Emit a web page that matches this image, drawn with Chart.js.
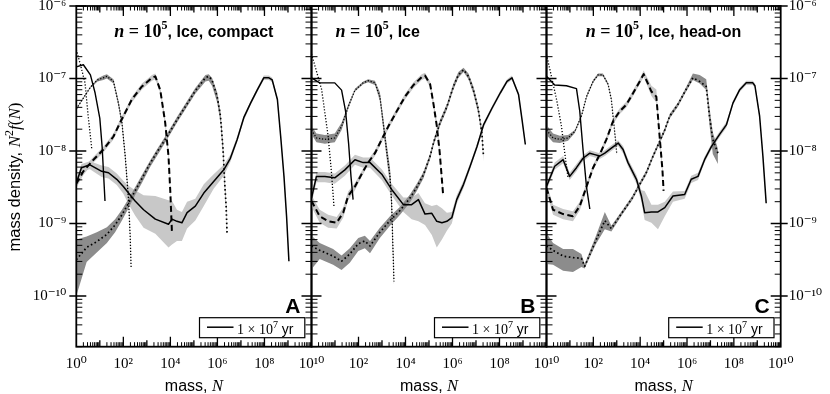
<!DOCTYPE html>
<html><head><meta charset="utf-8">
<script src="https://cdn.jsdelivr.net/npm/chart.js@4.4.0/dist/chart.umd.min.js"></script>
<style>
html,body{margin:0;padding:0;background:#fff;}
#wrap{position:relative;width:830px;height:394px;overflow:hidden;}
canvas{position:absolute;left:0;top:0;}
</style></head><body>
<div id="wrap">
<canvas id="cA" width="830" height="394"></canvas>
<canvas id="cB" width="830" height="394"></canvas>
<canvas id="cC" width="830" height="394"></canvas>
</div>
<script>
// ---------------- DATA (decimal exponents: n = log10 mass N, v = log10 N^2 f(N)) ----------------
// lo / hi : extent of the grey scatter band below / above the curve (in decades)
const X_MIN = 1, X_MAX = 1e10, Y_MIN = 2e-11, Y_MAX = 1e-6;
const xTickExpsFirst = [0, 2, 4, 6, 8, 10];
const xTickExpsRest  = [2, 4, 6, 8, 10];
const yTickExps = [-10, -9, -8, -7, -6];
const legendLabel = ['1 \u00d7 10', '7', ' yr'];
const panelTitles = ['compact', '', 'head-on'];
const panelLetters = ['A', 'B', 'C'];

// ---- Panel A (compact) ----
const A1_n = [0, 0.3, 0.6, 0.8, 1.0, 1.1, 1.22];
const A1_v = [-6.84, -6.81, -6.95, -7.2, -7.55, -7.95, -8.69];
const A2_n = [0, 0.2, 0.37, 0.5, 0.66];
const A2_v = [-6.6, -6.84, -7.06, -7.5, -7.98];
const A3_n = [0, 0.3, 0.6, 0.9, 1.15, 1.3, 1.58, 1.79, 1.94, 2.08, 2.22, 2.29, 2.33];
const A3_v = [-7.42, -7.27, -7.12, -7.02, -6.99, -6.97, -7.04, -7.34, -7.61, -8.07, -8.67, -9.17, -9.6];
const A3_lo = [0.01, 0.01, 0.01, 0.02, 0.03, 0.03, 0.03, 0.04, 0.05, 0.06, 0.06, 0.04, 0.02];
const A3_hi = [0.01, 0.01, 0.01, 0.02, 0.03, 0.03, 0.03, 0.04, 0.05, 0.06, 0.06, 0.04, 0.02];
const A4_n = [0, 0.3, 0.73, 1.15, 1.58, 1.86, 2.36, 2.79, 3.22, 3.36, 3.57, 3.78, 3.92, 4.0, 4.07];
const A4_v = [-8.45, -8.28, -8.12, -7.98, -7.8, -7.61, -7.29, -7.11, -6.99, -6.97, -7.16, -7.61, -8.07, -8.58, -9.15];
const A4_lo = [0.06, 0.05, 0.04, 0.04, 0.04, 0.04, 0.04, 0.04, 0.04, 0.04, 0.04, 0.05, 0.06, 0.06, 0.05];
const A4_hi = [0.06, 0.05, 0.04, 0.04, 0.04, 0.04, 0.04, 0.04, 0.04, 0.04, 0.04, 0.05, 0.06, 0.06, 0.05];
const A5_n = [0, 0.44, 0.87, 1.3, 1.65, 1.94, 2.22, 2.5, 2.79, 3.14, 3.5, 3.86, 4.28, 4.71, 5.06, 5.49, 5.63, 5.77, 5.99, 6.13, 6.24, 6.31, 6.37, 6.41];
const A5_v = [-9.5, -9.33, -9.25, -9.15, -9.02, -8.88, -8.72, -8.55, -8.38, -8.17, -7.98, -7.8, -7.57, -7.35, -7.17, -6.99, -6.97, -7.02, -7.25, -7.52, -7.98, -8.44, -8.76, -9.13];
const A5_lo = [0.5, 0.2, 0.15, 0.12, 0.1, 0.08, 0.07, 0.06, 0.06, 0.05, 0.05, 0.04, 0.04, 0.04, 0.04, 0.05, 0.06, 0.08, 0.08, 0.08, 0.08, 0.08, 0.06, 0.04];
const A5_hi = [0.28, 0.15, 0.13, 0.1, 0.08, 0.07, 0.06, 0.05, 0.05, 0.04, 0.04, 0.04, 0.04, 0.04, 0.04, 0.04, 0.03, 0.03, 0.06, 0.07, 0.07, 0.06, 0.05, 0.03];
const A6_n = [0, 0.22, 0.58, 1.08, 1.37, 1.72, 2.0, 2.22, 2.5, 2.86, 3.36, 3.92, 4.07, 4.28, 4.49, 4.71, 5.06, 5.42, 5.84, 6.27, 6.55, 6.84, 7.12, 7.41, 7.69, 7.97, 8.19, 8.33, 8.55, 8.69, 8.83, 8.94, 9.04];
const A6_v = [-8.44, -8.23, -8.19, -8.28, -8.3, -8.39, -8.49, -8.58, -8.69, -8.81, -8.94, -9.01, -8.94, -8.97, -8.99, -8.85, -8.76, -8.58, -8.42, -8.26, -8.1, -7.84, -7.54, -7.34, -7.16, -6.99, -6.99, -7.02, -7.29, -7.8, -8.35, -8.9, -9.52];
const A6_lo = [0.06, 0.05, 0.06, 0.08, 0.08, 0.08, 0.1, 0.15, 0.2, 0.25, 0.2, 0.32, 0.35, 0.27, 0.25, 0.22, 0.2, 0.18, 0.1, 0.08, 0.05, 0.04, 0.04, 0.03, 0.03, 0.03, 0.03, 0.03, 0.03, 0.03, 0.03, 0.03, 0.03];
const A6_hi = [0.05, 0.05, 0.05, 0.08, 0.08, 0.08, 0.08, 0.1, 0.15, 0.2, 0.32, 0.33, 0.25, 0.16, 0.15, 0.15, 0.1, 0.12, 0.1, 0.07, 0.05, 0.04, 0.03, 0.03, 0.03, 0.03, 0.03, 0.03, 0.03, 0.03, 0.03, 0.03, 0.03];

// ---- Panel B ----
const B1_n = [0, 0.35, 0.99, 1.28, 1.45, 1.58, 1.68, 1.77];
const B1_v = [-6.99, -7.06, -7.06, -7.16, -7.45, -7.9, -8.35, -8.67];
const B2_n = [0, 0.43, 0.71, 0.85, 0.96];
const B2_v = [-6.66, -7.15, -7.8, -8.3, -8.78];
const B3_n = [0, 0.21, 0.57, 0.99, 1.28, 1.56, 1.85, 2.2, 2.41, 2.7, 2.91, 3.05, 3.19, 3.34, 3.41, 3.45, 3.51];
const B3_v = [-7.71, -7.82, -7.84, -7.82, -7.66, -7.39, -7.16, -7.06, -7.03, -7.06, -7.25, -7.61, -7.98, -8.35, -8.71, -9.17, -9.8];
const B3_lo = [0.06, 0.06, 0.06, 0.06, 0.05, 0.03, 0.02, 0.02, 0.02, 0.03, 0.06, 0.08, 0.1, 0.12, 0.15, 0.15, 0.05];
const B3_hi = [0.06, 0.06, 0.06, 0.06, 0.05, 0.03, 0.02, 0.02, 0.02, 0.03, 0.06, 0.08, 0.1, 0.12, 0.15, 0.15, 0.05];
const B4_n = [0, 0.35, 0.71, 1.07, 1.35, 1.56, 1.85, 2.13, 2.41, 2.7, 2.99, 3.27, 3.63, 3.98, 4.34, 4.69, 4.83, 5.05, 5.19, 5.33, 5.45, 5.6];
const B4_v = [-8.69, -8.9, -8.97, -8.99, -8.85, -8.62, -8.49, -8.32, -8.16, -8.03, -7.84, -7.66, -7.45, -7.25, -7.09, -6.98, -6.96, -7.08, -7.35, -7.65, -8.0, -8.6];
const B4_lo = [0.08, 0.09, 0.09, 0.08, 0.07, 0.06, 0.05, 0.04, 0.04, 0.04, 0.04, 0.04, 0.04, 0.04, 0.04, 0.04, 0.04, 0.04, 0.05, 0.06, 0.06, 0.05];
const B4_hi = [0.08, 0.09, 0.09, 0.08, 0.07, 0.06, 0.05, 0.04, 0.04, 0.04, 0.04, 0.04, 0.04, 0.04, 0.04, 0.04, 0.04, 0.04, 0.05, 0.06, 0.06, 0.05];
const B5_n = [0, 0.35, 0.92, 1.28, 1.63, 1.99, 2.27, 2.49, 2.91, 3.34, 3.77, 4.19, 4.48, 4.76, 5.05, 5.19, 5.47, 5.76, 6.04, 6.25, 6.47, 6.68, 6.89, 7.1, 7.25, 7.32];
const B5_v = [-9.31, -9.37, -9.45, -9.52, -9.42, -9.28, -9.24, -9.31, -9.12, -8.96, -8.82, -8.65, -8.5, -8.33, -8.07, -7.89, -7.61, -7.39, -7.11, -6.95, -6.88, -6.97, -7.16, -7.43, -7.75, -8.08];
const B5_lo = [0.32, 0.12, 0.12, 0.12, 0.12, 0.1, 0.1, 0.1, 0.08, 0.07, 0.06, 0.06, 0.05, 0.05, 0.04, 0.04, 0.04, 0.04, 0.04, 0.04, 0.03, 0.04, 0.05, 0.06, 0.06, 0.06];
const B5_hi = [0.14, 0.1, 0.1, 0.08, 0.08, 0.08, 0.07, 0.07, 0.06, 0.06, 0.05, 0.05, 0.05, 0.04, 0.04, 0.04, 0.04, 0.04, 0.04, 0.04, 0.03, 0.04, 0.05, 0.05, 0.05, 0.05];
const B6_n = [0, 0.21, 0.57, 0.99, 1.42, 1.85, 2.2, 2.49, 2.99, 3.41, 3.91, 4.26, 4.55, 4.83, 5.12, 5.33, 5.55, 5.76, 5.97, 6.18, 6.47, 6.75, 7.04, 7.32, 7.68, 8.03, 8.32, 8.53, 8.81, 8.96, 9.1];
const B6_v = [-8.65, -8.35, -8.35, -8.37, -8.26, -8.12, -8.16, -8.16, -8.32, -8.53, -8.74, -8.74, -8.67, -8.87, -8.86, -8.97, -8.99, -8.97, -8.92, -8.67, -8.46, -8.21, -7.94, -7.64, -7.41, -7.2, -7.04, -6.99, -7.22, -7.57, -7.91];
const B6_lo = [0.08, 0.08, 0.08, 0.08, 0.08, 0.07, 0.07, 0.07, 0.08, 0.08, 0.1, 0.2, 0.3, 0.15, 0.3, 0.36, 0.23, 0.13, 0.08, 0.06, 0.05, 0.04, 0.04, 0.04, 0.03, 0.03, 0.03, 0.03, 0.03, 0.03, 0.03];
const B6_hi = [0.06, 0.06, 0.06, 0.06, 0.06, 0.07, 0.07, 0.07, 0.07, 0.08, 0.1, 0.1, 0.09, 0.15, 0.1, 0.23, 0.2, 0.12, 0.08, 0.06, 0.05, 0.04, 0.04, 0.03, 0.03, 0.03, 0.03, 0.03, 0.03, 0.03, 0.03];

// ---- Panel C (head-on) ----
const C1_n = [0, 0.35, 0.85, 1.28, 1.42, 1.56, 1.71, 1.85];
const C1_v = [-6.97, -7.09, -7.1, -7.14, -7.45, -7.98, -8.5, -8.8];
const C2_n = [0, 0.21, 0.43, 0.64, 0.78, 0.92];
const C2_v = [-6.67, -6.97, -7.29, -7.66, -8.03, -8.37];
const C3_n = [0, 0.28, 0.57, 0.92, 1.21, 1.49, 1.71, 1.99, 2.2, 2.41, 2.63, 2.77, 2.87, 2.96, 3.0];
const C3_v = [-7.71, -7.82, -7.84, -7.82, -7.73, -7.52, -7.25, -7.04, -6.95, -6.95, -7.08, -7.29, -7.61, -7.89, -8.04];
const C3_lo = [0.07, 0.06, 0.05, 0.04, 0.02, 0.02, 0.02, 0.02, 0.02, 0.02, 0.02, 0.02, 0.02, 0.02, 0.02];
const C3_hi = [0.07, 0.06, 0.05, 0.04, 0.02, 0.02, 0.02, 0.02, 0.02, 0.02, 0.02, 0.02, 0.02, 0.02, 0.02];
const C4_n = [0, 0.28, 0.71, 1.13, 1.42, 1.71, 1.99, 2.27, 2.56, 2.84, 3.13, 3.41, 3.7, 3.98, 4.15, 4.48, 4.69, 4.83, 4.95, 5.0];
const C4_v = [-8.51, -8.81, -8.87, -8.9, -8.76, -8.49, -8.23, -8.05, -7.84, -7.59, -7.45, -7.36, -7.2, -7.04, -6.94, -7.18, -7.25, -7.8, -8.26, -8.55];
const C4_lo = [0.06, 0.07, 0.07, 0.07, 0.06, 0.05, 0.04, 0.04, 0.04, 0.04, 0.04, 0.04, 0.04, 0.04, 0.04, 0.06, 0.08, 0.08, 0.06, 0.05];
const C4_hi = [0.06, 0.07, 0.07, 0.07, 0.06, 0.05, 0.04, 0.04, 0.04, 0.04, 0.04, 0.04, 0.04, 0.04, 0.05, 0.08, 0.1, 0.08, 0.06, 0.05];
const C5_n = [0, 0.28, 0.71, 1.13, 1.49, 1.63, 2.1, 2.49, 2.77, 3.23, 3.66, 3.98, 4.26, 4.55, 4.83, 5.05, 5.26, 5.61, 5.91, 6.25, 6.54, 6.82, 6.96, 7.1, 7.32];
const C5_v = [-9.31, -9.37, -9.45, -9.47, -9.48, -9.59, -9.24, -8.96, -9.07, -8.85, -8.65, -8.46, -8.3, -8.07, -7.87, -7.71, -7.52, -7.36, -7.18, -6.99, -7.04, -7.11, -7.52, -7.84, -8.03];
const C5_lo = [0.25, 0.2, 0.2, 0.2, 0.12, 0.03, 0.05, 0.12, 0.04, 0.03, 0.03, 0.03, 0.03, 0.03, 0.03, 0.03, 0.03, 0.03, 0.03, 0.03, 0.03, 0.05, 0.12, 0.2, 0.15];
const C5_hi = [0.18, 0.1, 0.1, 0.12, 0.06, 0.03, 0.06, 0.12, 0.04, 0.03, 0.03, 0.03, 0.03, 0.03, 0.03, 0.03, 0.03, 0.03, 0.03, 0.06, 0.09, 0.1, 0.12, 0.1, 0.06];
const C6_n = [0, 0.35, 0.71, 0.99, 1.28, 1.56, 1.85, 2.06, 2.27, 2.49, 2.77, 3.06, 3.27, 3.48, 3.84, 4.05, 4.19, 4.48, 4.76, 5.05, 5.4, 5.9, 6.18, 6.47, 6.75, 7.04, 7.39, 7.68, 7.96, 8.24, 8.53, 8.81, 8.9, 9.1, 9.24, 9.38];
const C6_v = [-8.49, -8.21, -8.12, -8.35, -8.23, -8.1, -8.03, -8.05, -8.07, -8.03, -7.96, -7.89, -7.98, -8.16, -8.39, -8.62, -8.85, -8.84, -8.84, -8.78, -8.62, -8.6, -8.39, -8.35, -8.12, -7.94, -7.77, -7.64, -7.34, -7.16, -7.06, -7.06, -7.1, -7.52, -8.07, -8.72];
const C6_lo = [0.05, 0.05, 0.05, 0.05, 0.05, 0.04, 0.04, 0.04, 0.04, 0.04, 0.04, 0.04, 0.05, 0.05, 0.06, 0.08, 0.1, 0.15, 0.24, 0.12, 0.08, 0.06, 0.05, 0.05, 0.04, 0.04, 0.04, 0.04, 0.03, 0.03, 0.03, 0.03, 0.03, 0.03, 0.03, 0.03];
const C6_hi = [0.05, 0.05, 0.05, 0.05, 0.05, 0.04, 0.04, 0.04, 0.04, 0.04, 0.04, 0.04, 0.05, 0.05, 0.06, 0.08, 0.3, 0.1, 0.1, 0.08, 0.06, 0.05, 0.05, 0.05, 0.04, 0.04, 0.04, 0.04, 0.03, 0.03, 0.03, 0.03, 0.03, 0.03, 0.03, 0.03];

// ---------------- STYLE ----------------
const LIGHT = 'rgb(200,200,200)', DARK = 'rgb(140,140,140)';
const STYLES = [
  {w: 1.4, dash: [], band: null},
  {w: 1.3, dash: [1.2, 1.8], band: null},
  {w: 1.3, dash: [1.2, 1.8], band: DARK},
  {w: 2.0, dash: [6, 3.5], band: LIGHT},
  {w: 1.7, dash: [1.6, 2.6], band: DARK},
  {w: 1.5, dash: [], band: LIGHT}
];
const SERIF = '"Liberation Serif","DejaVu Serif",serif';
const SANS = '"Liberation Sans","DejaVu Sans",sans-serif';

const SUP = {'0':'\u2070','1':'\u00b9','2':'\u00b2','3':'\u00b3','4':'\u2074','5':'\u2075','6':'\u2076','7':'\u2077','8':'\u2078','9':'\u2079','-':'\u207b'};
function fmtPow(v) {
  const e = Math.round(Math.log10(v));
  return '10' + String(e).split('').map(c => SUP[c]).join('');
}

function curve(n, v, lo, hi) { return {n, v, lo, hi}; }
const panels = [
  {curves: [curve(A1_n, A1_v), curve(A2_n, A2_v), curve(A3_n, A3_v, A3_lo, A3_hi), curve(A4_n, A4_v, A4_lo, A4_hi), curve(A5_n, A5_v, A5_lo, A5_hi), curve(A6_n, A6_v, A6_lo, A6_hi)],
   padL: 0, padR: 830 - 311.5, yPos: 'left', yShow: true, yW: 76.3, xTicks: xTickExpsFirst, outL: true, outR: false, yTitle: true},
  {curves: [curve(B1_n, B1_v), curve(B2_n, B2_v), curve(B3_n, B3_v, B3_lo, B3_hi), curve(B4_n, B4_v, B4_lo, B4_hi), curve(B5_n, B5_v, B5_lo, B5_hi), curve(B6_n, B6_v, B6_lo, B6_hi)],
   padL: 311.5, padR: 830 - 546.5, yPos: 'left', yShow: false, yW: 0, xTicks: xTickExpsRest, outL: false, outR: false, yTitle: false},
  {curves: [curve(C1_n, C1_v), curve(C2_n, C2_v), curve(C3_n, C3_v, C3_lo, C3_hi), curve(C4_n, C4_v, C4_lo, C4_hi), curve(C5_n, C5_v, C5_lo, C5_hi), curve(C6_n, C6_v, C6_lo, C6_hi)],
   padL: 546.5, padR: 0, yPos: 'right', yShow: true, yW: 830 - 780.7, xTicks: xTickExpsRest, outL: false, outR: true, yTitle: false}
];
panels.forEach((p, i) => { p.title = panelTitles[i]; p.letter = panelLetters[i]; });

function buildDatasets(curves) {
  const ds = [];
  curves.forEach((c, k) => {
    const st = STYLES[k];
    if (c.lo && st.band) {
      const lowIdx = ds.length;
      ds.push({data: c.n.map((e, i) => ({x: Math.pow(10, e), y: Math.pow(10, c.v[i] - c.lo[i])})),
        borderWidth: 0, borderColor: 'rgba(0,0,0,0)', pointRadius: 0, fill: false, order: 10});
      ds.push({data: c.n.map((e, i) => ({x: Math.pow(10, e), y: Math.pow(10, c.v[i] + c.hi[i])})),
        borderWidth: 0, borderColor: 'rgba(0,0,0,0)', pointRadius: 0, fill: lowIdx, backgroundColor: st.band, order: 10});
    }
    ds.push({data: c.n.map((e, i) => ({x: Math.pow(10, e), y: Math.pow(10, c.v[i])})),
      borderColor: '#000', borderWidth: st.w, borderDash: st.dash, pointRadius: 0, fill: false, order: 0, tension: 0,
      borderCapStyle: 'butt', borderJoinStyle: 'round'});
  });
  return ds;
}

function drawRich(ctx, parts, x, y, align) {
  let w = 0;
  parts.forEach(p => { ctx.font = p[1]; w += ctx.measureText(p[0]).width; });
  let cx = align === 'center' ? x - w / 2 : (align === 'right' ? x - w : x);
  ctx.textAlign = 'left'; ctx.textBaseline = 'alphabetic';
  parts.forEach(p => { ctx.font = p[1]; ctx.fillText(p[0], cx, y + (p[2] || 0)); cx += ctx.measureText(p[0]).width; });
}

const deco = {
  id: 'deco',
  afterDraw(chart) {
    const p = chart.options.plugins.deco;
    const {ctx, chartArea: a} = chart;
    const xs = chart.scales.x, ys = chart.scales.y;
    ctx.save();
    ctx.strokeStyle = '#000'; ctx.fillStyle = '#000';
    // x tick marks (top and bottom, inward)
    for (let e = 0; e < 10; e++) {
      for (let m = 1; m < 10; m++) {
        const v = m * Math.pow(10, e);
        if (v <= X_MIN) continue;
        const px = xs.getPixelForValue(v);
        const L = m === 1 ? (e % 2 === 0 ? 10 : 6.5) : 4.5;
        ctx.lineWidth = m === 1 ? 1.3 : 1;
        ctx.beginPath();
        ctx.moveTo(px, a.bottom); ctx.lineTo(px, a.bottom - L);
        ctx.moveTo(px, a.top); ctx.lineTo(px, a.top + L);
        ctx.stroke();
      }
    }
    // y tick marks
    for (let e = -11; e <= -6; e++) {
      for (let m = 1; m < 10; m++) {
        const v = m * Math.pow(10, e);
        if (v < Y_MIN * 0.999 || v > Y_MAX * 1.001) continue;
        const py = ys.getPixelForValue(v);
        const major = m === 1;
        const L = major ? 10 : 6;
        ctx.lineWidth = major ? 1.3 : 1;
        ctx.beginPath();
        ctx.moveTo(a.left - (major && p.outL ? 7 : 0), py); ctx.lineTo(a.left + L, py);
        ctx.moveTo(a.right + (major && p.outR ? 7 : 0), py); ctx.lineTo(a.right - L, py);
        ctx.stroke();
      }
    }
    // frame
    ctx.lineWidth = 1.8;
    ctx.strokeRect(a.left, a.top, a.right - a.left, a.bottom - a.top);
    const cxp = (a.left + a.right) / 2;
    // panel title
    const tParts = [['n', 'italic bold 18px ' + SERIF], [' = ', 'bold 18px ' + SERIF], ['10', 'bold 18px ' + SERIF], ['5', 'bold 12px ' + SERIF, -8],
      [', Ice' + (p.title ? ', ' + p.title : ''), 'bold 16px ' + SANS]];
    if (p.title) drawRich(ctx, tParts, cxp, 37, 'center');
    else drawRich(ctx, tParts, a.left + 24, 37, 'left');
    // panel letter
    ctx.font = 'bold 21px ' + SANS; ctx.textAlign = 'right'; ctx.textBaseline = 'alphabetic';
    ctx.fillText(p.letter, a.right - 11, a.bottom - 34);
    // legend
    const bw = 105.3, bh = 20, bx = a.right - 6.7 - bw, by = a.bottom - 9 - bh;
    ctx.fillStyle = '#fff'; ctx.fillRect(bx, by, bw, bh);
    ctx.lineWidth = 1.2; ctx.strokeStyle = '#000'; ctx.strokeRect(bx, by, bw, bh);
    ctx.lineWidth = STYLES[5].w; ctx.beginPath(); ctx.moveTo(bx + 7.5, by + 9.5); ctx.lineTo(bx + 34, by + 9.5); ctx.stroke();
    ctx.fillStyle = '#000';
    drawRich(ctx, [[legendLabel[0], '14px ' + SERIF], [legendLabel[1], '10px ' + SERIF, -6], [legendLabel[2], '14px ' + SANS]], bx + 37.5, by + 16.5, 'left');
    // x axis title
    drawRich(ctx, [['mass, ', '16px ' + SANS], ['N', 'italic 16.5px ' + SERIF]], cxp, 391, 'center');
    // y axis title
    if (p.yTitle) {
      ctx.save();
      ctx.translate(20, 177); ctx.rotate(-Math.PI / 2);
      drawRich(ctx, [['mass density, ', '16.5px ' + SANS], ['N', 'italic 17px ' + SERIF], ['2', '12px ' + SERIF, -7],
        ['f', 'italic 17px ' + SERIF], ['(', '17px ' + SERIF], ['N', 'italic 17px ' + SERIF], [')', '17px ' + SERIF]], 0, 0, 'center');
      ctx.restore();
    }
    ctx.restore();
  }
};

function makeChart(id, p) {
  return new Chart(document.getElementById(id), {
    type: 'line',
    data: {datasets: buildDatasets(p.curves)},
    options: {
      responsive: false, animation: false, devicePixelRatio: 1, parsing: true,
      layout: {padding: {left: p.padL, right: p.padR, top: 6, bottom: 0}},
      plugins: {legend: {display: false}, tooltip: {enabled: false}, deco: p},
      elements: {point: {radius: 0}, line: {tension: 0}},
      scales: {
        x: {type: 'logarithmic', min: X_MIN, max: X_MAX,
          grid: {display: false, drawTicks: false}, border: {display: false},
          afterBuildTicks: s => { s.ticks = p.xTicks.map(e => ({value: Math.pow(10, e)})); },
          afterFit: s => { s.height = 394 - 346.7; s.paddingLeft = 0; s.paddingRight = 0; },
          ticks: {autoSkip: false, maxRotation: 0, padding: 8, color: '#000', font: {family: SERIF, size: 15}, callback: v => fmtPow(v)}},
        y: {type: 'logarithmic', position: p.yPos, display: p.yShow, min: Y_MIN, max: Y_MAX,
          grid: {display: false, drawTicks: false}, border: {display: false},
          afterBuildTicks: s => { s.ticks = yTickExps.map(e => ({value: Math.pow(10, e)})); },
          afterFit: s => { s.width = p.yW; s.paddingTop = 0; s.paddingBottom = 0; },
          ticks: {autoSkip: false, padding: p.yPos === 'left' ? 10 : 8, color: '#000', font: {family: SERIF, size: 15}, callback: v => fmtPow(v)}}
      }
    },
    plugins: [deco]
  });
}
makeChart('cA', panels[0]);
makeChart('cB', panels[1]);
makeChart('cC', panels[2]);
</script>
</body></html>
